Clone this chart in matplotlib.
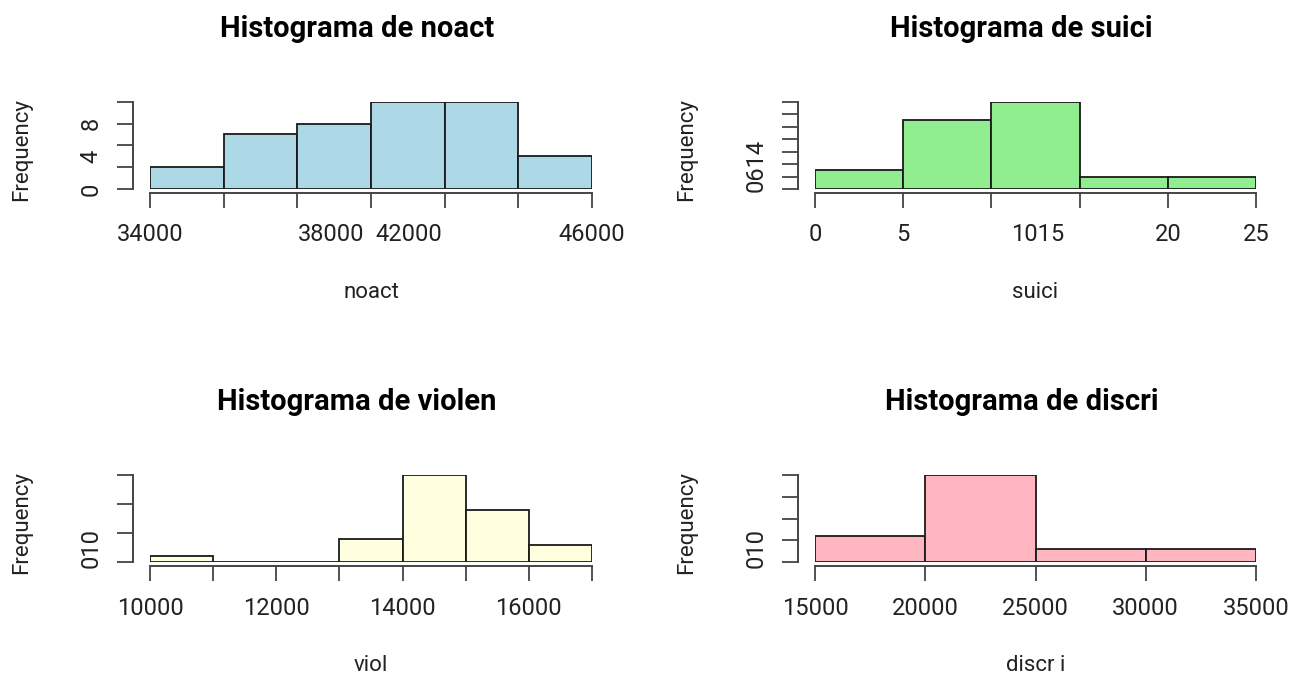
#!/usr/bin/env python3

import numpy as np
import matplotlib.pyplot as plt

W, H = 1292, 677

noact_edges = [34000, 36000, 38000, 40000, 42000, 44000, 46000]
noact_freq = [2, 5, 6, 8, 8, 3]
noact_yticks = [0, 2, 4, 6, 8]
noact_xlab = ["34000", "38000", "42000", "46000"]
noact_xlab_pos = [34000, 38930, 41030, 46000]
noact_ylab = ["0", "4", "8"]
noact_ylab_pos = [0, 3, 6]

suici_edges = [0, 5, 10, 15, 20, 25]
suici_freq = [3, 11, 14, 2, 2]
suici_yticks = [0, 2, 4, 6, 8, 10, 12, 14]
suici_xlab = ["0", "5", "1015", "20", "25"]
suici_xlab_pos = [0, 5, 12.6, 20, 25]
suici_ylab = ["0614"]
suici_ylab_pos = [3.7]

viol_edges = [10000, 11000, 12000, 13000, 14000, 15000, 16000, 17000]
viol_freq = [1, 0, 0, 4, 15, 9, 3]
viol_yticks = [0, 5, 10, 15]
viol_xlab = ["10000", "12000", "14000", "16000"]
viol_xlab_pos = [10000, 12000, 14000, 16000]
viol_ylab = ["010"]
viol_ylab_pos = [2.5]

discri_edges = [15000, 20000, 25000, 30000, 35000]
discri_freq = [6, 20, 3, 3]
discri_yticks = [0, 5, 10, 15, 20]
discri_xlab = ["15000", "20000", "25000", "30000", "35000"]
discri_xlab_pos = [15000, 20000, 25000, 30000, 35000]
discri_ylab = ["010"]
discri_ylab_pos = [3.3]

plt.rcParams['font.family'] = ['Roboto', 'DejaVu Sans']

fig = plt.figure(figsize=(W / 100, H / 100), dpi=100)


def fx(x):
    return x / W


def fy(y):
    return 1 - y / H


def panel(left, right, top, bottom, edges, freq, yticks, xlab, xlab_pos,
          ylab, ylab_pos, color, title, xlabel):
    ax = fig.add_axes([fx(left), fy(bottom), fx(right - left), (bottom - top) / H])
    ax.bar(edges[:-1], freq, width=np.diff(edges), align='edge',
           color=color, edgecolor='#1a1a1a', linewidth=1.3)
    ax.set_xlim(edges[0], edges[-1])
    ax.set_ylim(0, yticks[-1])
    ax.patch.set_visible(False)
    ax.xaxis.remove_overlapping_locs = False
    ax.yaxis.remove_overlapping_locs = False
    for s in ['top', 'right']:
        ax.spines[s].set_visible(False)
    ax.spines['left'].set_position(('outward', 12.2))
    ax.spines['bottom'].set_position(('outward', 2.7))
    ax.spines['left'].set_bounds(yticks[0], yticks[-1])
    ax.spines['bottom'].set_bounds(edges[0], edges[-1])
    for s in ['left', 'bottom']:
        ax.spines[s].set_color('#444444')
        ax.spines[s].set_linewidth(1.4)
    ax.set_xticks(edges)
    ax.set_xticklabels([])
    ax.set_yticks(yticks)
    ax.set_yticklabels([])
    ax.tick_params(axis='x', which='major', length=10.8, width=1.3, color='#444444')
    ax.tick_params(axis='y', which='major', length=11.5, width=1.3, color='#444444')
    ax.set_xticks(xlab_pos, minor=True)
    ax.set_xticklabels(xlab, minor=True)
    ax.set_yticks(ylab_pos, minor=True)
    ax.set_yticklabels(ylab, minor=True, rotation=90, va='center')
    ax.tick_params(axis='x', which='minor', length=0, pad=22, labelsize=17,
                   labelcolor='#222222')
    ax.tick_params(axis='y', which='minor', length=0, pad=22, labelsize=17,
                   labelcolor='#222222')
    cx = (left + right) / 2
    fig.text(fx(cx - 14), fy(top - 73), title, ha='center', va='center',
             fontsize=21, fontweight='bold')
    fig.text(fx(cx), fy(bottom + 103), xlabel, ha='center', va='center',
             fontsize=16, color='#222222')
    fig.text(fx(left - 128), fy((top + bottom) / 2 + 4), "Frequency", ha='center',
             va='center', rotation=90, fontsize=16, color='#222222')
    return ax


panel(150, 592, 101.7, 189, noact_edges, noact_freq, noact_yticks,
      noact_xlab, noact_xlab_pos, noact_ylab, noact_ylab_pos,
      'lightblue', "Histograma de noact", "noact")
panel(815, 1256, 101.7, 189, suici_edges, suici_freq, suici_yticks,
      suici_xlab, suici_xlab_pos, suici_ylab, suici_ylab_pos,
      'lightgreen', "Histograma de suici", "suici")
panel(150, 592, 475, 562.3, viol_edges, viol_freq, viol_yticks,
      viol_xlab, viol_xlab_pos, viol_ylab, viol_ylab_pos,
      'lightyellow', "Histograma de violen", "viol")
panel(815, 1256, 475, 562.3, discri_edges, discri_freq, discri_yticks,
      discri_xlab, discri_xlab_pos, discri_ylab, discri_ylab_pos,
      'lightpink', "Histograma de discri", "discr i")

fig.savefig("out.png", dpi=100)
